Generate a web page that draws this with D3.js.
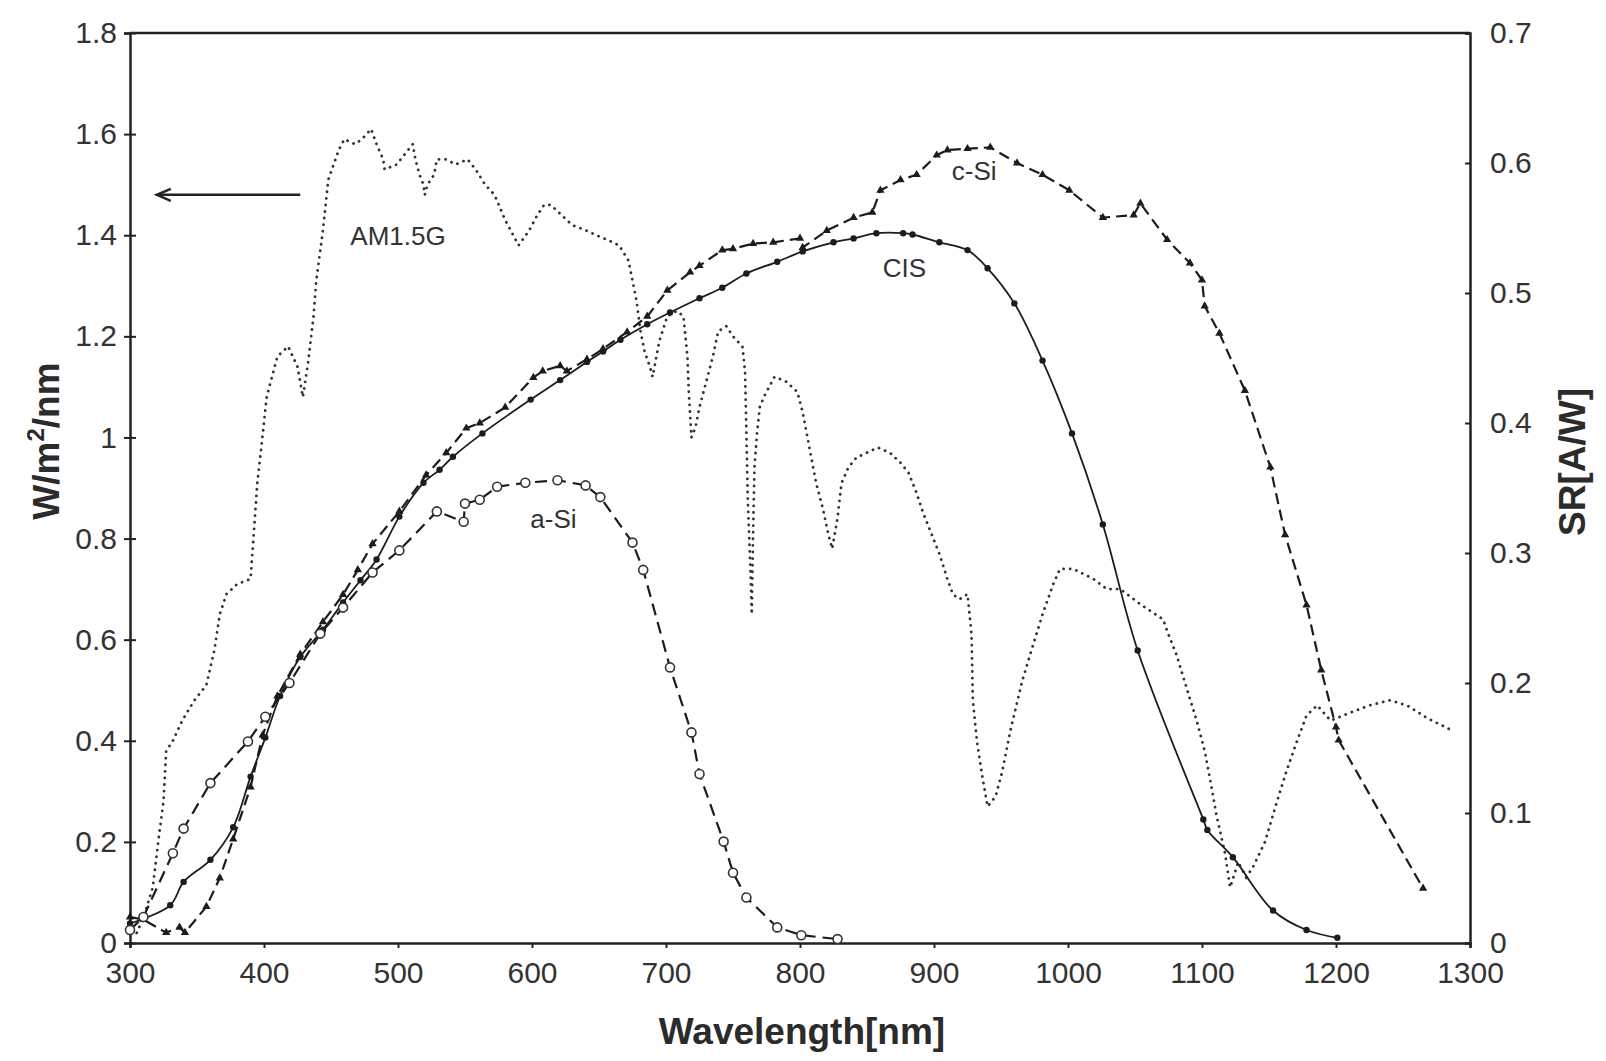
<!DOCTYPE html>
<html>
<head>
<meta charset="utf-8">
<script src="https://cdn.jsdelivr.net/npm/d3@7"></script>
<style>
  body { margin: 0; background: #fff; }
  .tick text { font-family: "Liberation Sans", Arial, sans-serif; font-size: 30px; fill: #333; }
  .axis-title { font-family: "Liberation Sans", Arial, sans-serif; font-size: 37px; font-weight: bold; fill: #2b2b2b; }
  .curve-label { font-family: "Liberation Sans", Arial, sans-serif; font-size: 26px; fill: #333; }
</style>
</head>
<body>
<div class="chart"></div>
<script>
// Spectral response of c-Si, CIS and a-Si against the AM1.5G spectrum

var svgWidth = 1606;
var svgHeight = 1061;

var margin = { top: 33, right: 136, bottom: 118, left: 130 };
var width = svgWidth - margin.left - margin.right;
var height = svgHeight - margin.top - margin.bottom;

// tick values
var xTicks = [300, 400, 500, 600, 700, 800, 900, 1000, 1100, 1200, 1300];
var leftTicks = [0, 0.2, 0.4, 0.6, 0.8, 1, 1.2, 1.4, 1.6, 1.8];
var rightTicks = [0, 0.1, 0.2, 0.3, 0.4, 0.5, 0.6, 0.7];

// AM1.5G spectrum, [nm, W/m2/nm]
var am15g = [
  [305, 0.02], [310, 0.05], [317, 0.11], [322, 0.22], [325, 0.28], [327, 0.38], [332, 0.40],
  [339, 0.44], [348, 0.48], [357, 0.51], [363, 0.58], [367, 0.65], [372, 0.69], [380, 0.71],
  [390, 0.72], [395, 0.91], [398, 0.98], [402, 1.08], [406, 1.12], [410, 1.16], [418, 1.18],
  [425, 1.14], [429, 1.08], [433, 1.15], [437, 1.24], [439, 1.31], [442, 1.37], [444, 1.41],
  [448, 1.51], [452, 1.54], [456, 1.57], [460, 1.59], [468, 1.58], [473, 1.59], [480, 1.61],
  [484, 1.58], [489, 1.55], [490, 1.53], [499, 1.54], [505, 1.56], [511, 1.58], [513, 1.55],
  [516, 1.52], [519, 1.50], [520, 1.48], [522, 1.50], [527, 1.52], [529, 1.55], [536, 1.55],
  [543, 1.54], [552, 1.55], [558, 1.53], [565, 1.50], [572, 1.48], [580, 1.43], [590, 1.38],
  [598, 1.41], [604, 1.44], [609, 1.46], [614, 1.46], [622, 1.44], [630, 1.42], [640, 1.41],
  [648, 1.40], [657, 1.39], [665, 1.38], [672, 1.35], [675, 1.31], [678, 1.27], [681, 1.21],
  [684, 1.17], [688, 1.14], [690, 1.12], [695, 1.19], [701, 1.24], [708, 1.25], [713, 1.24],
  [716, 1.16], [717, 1.09], [719, 1.00], [722, 1.02], [725, 1.06], [730, 1.11], [735, 1.16],
  [739, 1.21], [745, 1.22], [750, 1.20], [757, 1.18], [759, 1.13], [760, 1.01], [761, 0.88],
  [763, 0.74], [764, 0.65], [765, 0.81], [766, 0.94], [768, 1.01], [770, 1.06], [773, 1.08],
  [781, 1.12], [790, 1.11], [798, 1.09], [802, 1.05], [807, 0.98], [812, 0.91], [817, 0.86],
  [821, 0.81], [824, 0.78], [828, 0.84], [831, 0.91], [836, 0.94], [842, 0.96], [850, 0.97],
  [858, 0.98], [867, 0.97], [875, 0.95], [881, 0.93], [887, 0.89], [892, 0.85], [898, 0.81],
  [904, 0.77], [910, 0.72], [914, 0.69], [919, 0.68], [925, 0.69], [928, 0.61], [929, 0.48],
  [932, 0.40], [936, 0.33], [940, 0.27], [946, 0.29], [951, 0.34], [957, 0.42], [966, 0.52],
  [974, 0.59], [981, 0.65], [989, 0.71], [994, 0.74], [1004, 0.74], [1019, 0.72], [1029, 0.70],
  [1039, 0.70], [1054, 0.67], [1071, 0.64], [1075, 0.61], [1081, 0.57], [1089, 0.50], [1096, 0.44],
  [1102, 0.38], [1107, 0.31], [1111, 0.25], [1117, 0.18], [1121, 0.11], [1127, 0.16], [1133, 0.13],
  [1138, 0.15], [1147, 0.20], [1156, 0.28], [1163, 0.34], [1171, 0.40], [1178, 0.45], [1186, 0.47],
  [1196, 0.44], [1210, 0.455], [1225, 0.47], [1240, 0.48], [1253, 0.47], [1268, 0.445], [1287, 0.42]
];

// spectral response, [nm, A/W]
var cSi = [
  [300, 0.02], [310, 0.018], [327, 0.008], [337, 0.012], [341, 0.008], [357, 0.028], [367, 0.05],
  [377, 0.08], [390, 0.12], [399, 0.16], [410, 0.19], [427, 0.222], [444, 0.247], [459, 0.268],
  [470, 0.287], [481, 0.307], [501, 0.332], [521, 0.36], [536, 0.377], [551, 0.396], [561, 0.40],
  [580, 0.412], [601, 0.435], [608, 0.44], [621, 0.444], [626, 0.44], [641, 0.449], [653, 0.457],
  [671, 0.47], [686, 0.482], [701, 0.502], [718, 0.516], [725, 0.521], [742, 0.533], [750, 0.534],
  [765, 0.538], [780, 0.539], [800, 0.542], [802, 0.535], [820, 0.548], [840, 0.558], [854, 0.562],
  [860, 0.579], [875, 0.587], [887, 0.591], [902, 0.606], [910, 0.61], [925, 0.611], [942, 0.612],
  [962, 0.60], [981, 0.591], [1001, 0.579], [1026, 0.558], [1049, 0.56], [1054, 0.569], [1074, 0.541],
  [1091, 0.523], [1100, 0.51], [1102, 0.49], [1113, 0.469], [1132, 0.425], [1151, 0.366],
  [1162, 0.314], [1178, 0.26], [1189, 0.21], [1200, 0.166], [1202, 0.156], [1265, 0.042]
];

var cis = [
  [300, 0.015], [330, 0.029], [340, 0.047], [360, 0.064], [377, 0.089], [390, 0.128], [401, 0.158],
  [412, 0.19], [427, 0.22], [444, 0.241], [459, 0.262], [472, 0.279], [484, 0.295], [501, 0.328],
  [519, 0.354], [531, 0.364], [541, 0.374], [563, 0.392], [599, 0.418], [621, 0.433], [641, 0.447],
  [653, 0.455], [666, 0.464], [686, 0.476], [703, 0.485], [725, 0.496], [742, 0.504], [760, 0.515],
  [783, 0.524], [802, 0.532], [825, 0.539], [840, 0.542], [857, 0.546], [877, 0.546], [884, 0.545],
  [904, 0.539], [925, 0.533], [940, 0.519], [960, 0.492], [981, 0.448], [1003, 0.392], [1026, 0.322],
  [1052, 0.225], [1101, 0.095], [1104, 0.087], [1123, 0.066], [1153, 0.025], [1178, 0.01], [1201, 0.004]
];

var aSi = [
  [300, 0.01], [310, 0.02], [332, 0.069], [340, 0.088], [360, 0.123], [388, 0.155], [401, 0.174],
  [419, 0.2], [442, 0.238], [459, 0.258], [481, 0.285], [501, 0.302], [529, 0.332], [549, 0.324],
  [550, 0.338], [561, 0.341], [574, 0.351], [595, 0.354], [619, 0.356], [640, 0.352], [651, 0.343],
  [675, 0.308], [683, 0.287], [703, 0.212], [719, 0.162], [725, 0.13], [743, 0.078], [750, 0.054],
  [760, 0.035], [783, 0.012], [801, 0.006], [828, 0.003]
];

var svg = d3.select(".chart")
  .append("svg")
  .attr("width", svgWidth)
  .attr("height", svgHeight);

var chartGroup = svg.append("g")
  .attr("transform", `translate(${margin.left}, ${margin.top})`);

var xScale = d3.scaleLinear().domain([300, 1300]).range([0, width]);
var yLeft = d3.scaleLinear().domain([0, 1.8]).range([height, 0]);
var yRight = d3.scaleLinear().domain([0, 0.7]).range([height, 0]);

var fmt = d => String(+d.toFixed(1));

// axes
var leftAxis = chartGroup.append("g")
  .call(d3.axisLeft(yLeft).tickValues(leftTicks).tickFormat(fmt).tickSizeOuter(0).tickSize(6).tickPadding(7));
leftAxis.selectAll(".tick line").attr("x1", 6);

var bottomAxis = chartGroup.append("g")
  .attr("transform", `translate(0, ${height})`)
  .call(d3.axisBottom(xScale).tickValues(xTicks).tickFormat(d3.format("d")).tickSizeOuter(0).tickSize(5).tickPadding(14));

var rightAxis = chartGroup.append("g")
  .attr("transform", `translate(${width}, 0)`)
  .call(d3.axisRight(yRight).tickValues(rightTicks).tickFormat(fmt).tickSizeOuter(0).tickSize(-5).tickPadding(20));

chartGroup.selectAll(".domain").attr("stroke", "#222").attr("stroke-width", 2.5);
chartGroup.selectAll(".tick line").attr("stroke", "#222").attr("stroke-width", 2);

// top border
chartGroup.append("line")
  .attr("x1", xScale(300)).attr("x2", xScale(1300))
  .attr("y1", yLeft(1.8)).attr("y2", yLeft(1.8))
  .attr("stroke", "#222").attr("stroke-width", 2.5);

// AM1.5G dotted
var amLine = d3.line().x(d => xScale(d[0])).y(d => yLeft(d[1]));
chartGroup.append("path")
  .datum(am15g)
  .attr("d", amLine)
  .attr("fill", "none")
  .attr("stroke", "#333")
  .attr("stroke-width", 2.8)
  .attr("stroke-linecap", "round")
  .attr("stroke-dasharray", "0.1,6.5");

var srLine = d3.line().x(d => xScale(d[0])).y(d => yRight(d[1]));

// c-Si dashed with triangles
chartGroup.append("path")
  .datum(cSi)
  .attr("d", srLine)
  .attr("fill", "none")
  .attr("stroke", "#1c1c1c")
  .attr("stroke-width", 2.2)
  .attr("stroke-dasharray", "11,6");

chartGroup.selectAll(".tri")
  .data(cSi)
  .enter()
  .append("path")
  .attr("class", "tri")
  .attr("d", d3.symbol().type(d3.symbolTriangle).size(30))
  .attr("transform", d => `translate(${xScale(d[0])}, ${yRight(d[1])})`)
  .attr("fill", "#1c1c1c");

// CIS solid with filled circles
chartGroup.append("path")
  .datum(cis)
  .attr("d", srLine.curve(d3.curveCatmullRom))
  .attr("fill", "none")
  .attr("stroke", "#1c1c1c")
  .attr("stroke-width", 1.8);
srLine.curve(d3.curveLinear);

chartGroup.selectAll(".dot")
  .data(cis)
  .enter()
  .append("circle")
  .attr("class", "dot")
  .attr("cx", d => xScale(d[0]))
  .attr("cy", d => yRight(d[1]))
  .attr("r", 3.2)
  .attr("fill", "#1c1c1c");

// a-Si dashed with open circles
chartGroup.append("path")
  .datum(aSi)
  .attr("d", srLine)
  .attr("fill", "none")
  .attr("stroke", "#1c1c1c")
  .attr("stroke-width", 2.2)
  .attr("stroke-dasharray", "12,7");

chartGroup.selectAll(".ring")
  .data(aSi)
  .enter()
  .append("circle")
  .attr("class", "ring")
  .attr("cx", d => xScale(d[0]))
  .attr("cy", d => yRight(d[1]))
  .attr("r", 4.5)
  .attr("fill", "#fff")
  .attr("stroke", "#333")
  .attr("stroke-width", 1.6);

// arrow pointing at the left axis
var arrowY = yLeft(1.48);
chartGroup.append("line")
  .attr("x1", xScale(427)).attr("x2", xScale(320))
  .attr("y1", arrowY).attr("y2", arrowY)
  .attr("stroke", "#222").attr("stroke-width", 2.5);
chartGroup.append("path")
  .attr("d", `M${xScale(320) + 14},${arrowY - 6} L${xScale(320)},${arrowY} L${xScale(320) + 14},${arrowY + 6}`)
  .attr("fill", "none").attr("stroke", "#222").attr("stroke-width", 2.5);

// curve labels
var labels = [
  { text: "AM1.5G", x: 500, y: 1.38, axis: yLeft },
  { text: "c-Si", x: 930, y: 0.587, axis: yRight },
  { text: "CIS", x: 878, y: 0.512, axis: yRight },
  { text: "a-Si", x: 616, y: 0.319, axis: yRight }
];
chartGroup.selectAll(".curve-label")
  .data(labels)
  .enter()
  .append("text")
  .attr("class", "curve-label")
  .attr("x", d => xScale(d.x))
  .attr("y", d => d.axis(d.y))
  .attr("text-anchor", "middle")
  .text(d => d.text);

// axis titles
svg.append("text")
  .attr("class", "axis-title")
  .attr("x", 802)
  .attr("y", 1044)
  .attr("text-anchor", "middle")
  .text("Wavelength[nm]");

var yTitle = svg.append("text")
  .attr("class", "axis-title")
  .attr("transform", "translate(59, 441) rotate(-90)")
  .attr("text-anchor", "middle");
yTitle.append("tspan").text("W/m");
yTitle.append("tspan").attr("font-size", "24px").attr("dy", -15).text("2");
yTitle.append("tspan").attr("dy", 15).text("/nm");

svg.append("text")
  .attr("class", "axis-title")
  .attr("transform", "translate(1585, 462) rotate(-90)")
  .attr("text-anchor", "middle")
  .text("SR[A/W]");
</script>
</body>
</html>
